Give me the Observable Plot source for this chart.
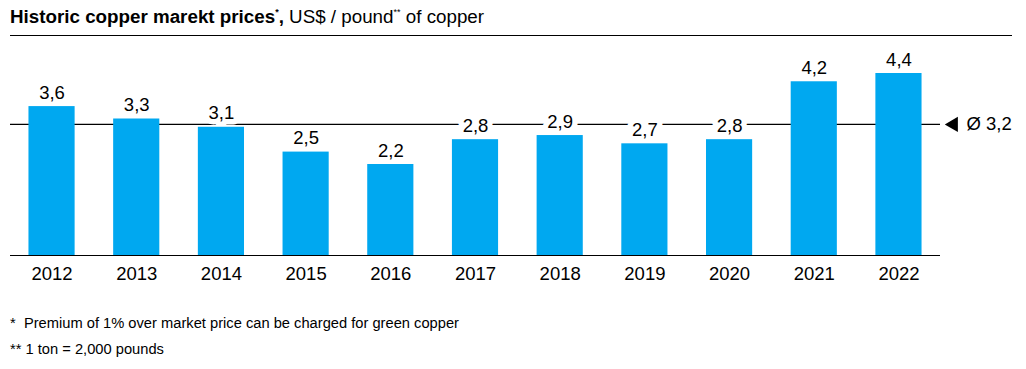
<!DOCTYPE html>
<html>
<head>
<meta charset="utf-8">
<script src="https://cdn.jsdelivr.net/npm/d3@7"></script>
<script src="https://cdn.jsdelivr.net/npm/@observablehq/plot@0.6"></script>
<style>
  html, body { margin: 0; padding: 0; background: #fff; }
  body { width: 1026px; height: 369px; position: relative; overflow: hidden;
         font-family: "Liberation Sans", Arial, sans-serif; color: #000; }
  #title { position: absolute; left: 10px; top: 7px; font-size: 18.8px; line-height: 20px; white-space: nowrap; }
  #title sup { font-size: 9px; vertical-align: 0; position: relative; top: -8px; }
  #rule { position: absolute; left: 10px; top: 35px; width: 1002px; height: 1px; background: #000; }
  #chart { position: absolute; left: 0; top: 0; }
  .fn { position: absolute; left: 10px; font-size: 14.7px; line-height: 16px; white-space: nowrap; }
</style>
</head>
<body>
<div id="chart"></div>
<div id="title"><b>Historic copper marekt prices<sup>*</sup>,</b> US$ / pound<sup>**</sup> of copper</div>
<div id="rule"></div>
<div class="fn" style="top:315px">*&nbsp; Premium of 1% over market price can be charged for green copper</div>
<div class="fn" style="top:341px">** 1 ton = 2,000 pounds</div>
<script>
const years = ["2012","2013","2014","2015","2016","2017","2018","2019","2020","2021","2022"];
const prices = [3.6, 3.3, 3.1, 2.5, 2.2, 2.8, 2.9, 2.7, 2.8, 4.2, 4.4];
const average = 3.17;
const avgLabel = "Ø 3,2";

const data = years.map((year, i) => ({year, value: prices[i]}));
const fmt = v => v.toFixed(1).replace(".", ",");
const labelOpts = {x: "year", y: "value", text: d => fmt(d.value), lineAnchor: "bottom", dy: -8, fontSize: 18.5};

const chart = Plot.plot({
  width: 1026,
  height: 369,
  marginLeft: 10,
  marginRight: 86,
  marginTop: 0,
  marginBottom: 0,
  style: {fontFamily: '"Liberation Sans", Arial, sans-serif', background: "transparent", color: "#000"},
  x: {type: "band", domain: years, paddingInner: 0.455, paddingOuter: 0.218, round: false, axis: null},
  y: {domain: [0, 4.4], range: [255, 73], axis: null},
  marks: [
    Plot.ruleY([average], {stroke: "#000", strokeWidth: 1.2}),
    Plot.text(data, {...labelOpts, fill: "white", stroke: "white", strokeWidth: 11}),
    Plot.barY(data, {x: "year", y: "value", fill: "#00A8F0"}),
    Plot.ruleY([0], {stroke: "#000", strokeWidth: 1.2}),
    Plot.text(data, {...labelOpts, fill: "#000"}),
    Plot.text(data, {x: "year", y: () => 0, text: "year", lineAnchor: "top", dy: 11, fontSize: 18.5, fill: "#000"}),
    Plot.dot([average], {y: d => d, frameAnchor: "right", dx: 13, symbol: "triangle", rotate: -90, r: 5.6, fill: "#000", stroke: "none"}),
    Plot.text([average], {y: d => d, frameAnchor: "right", dx: 26, textAnchor: "start", text: () => avgLabel, fontSize: 18.5, fill: "#000"})
  ]
});
document.getElementById("chart").appendChild(chart);
</script>
</body>
</html>
